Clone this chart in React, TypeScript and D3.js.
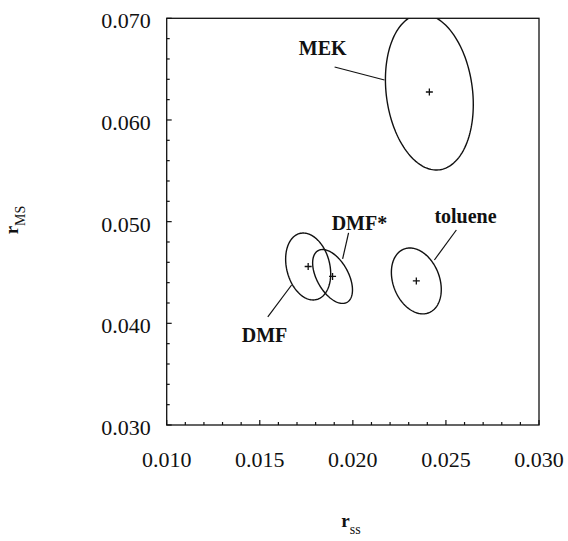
import React, { useEffect, useRef } from 'react';
import * as d3 from 'd3';

// ellipses: centre, half extents (x, y) and correlation
const solvents = ['MEK', 'DMF', 'DMF*', 'toluene'];
const centerSS = [0.02411, 0.0176, 0.01891, 0.02341];
const centerMS = [0.06275, 0.04559, 0.04461, 0.04417];
const spreadSS = [0.00236, 0.00121, 0.00107, 0.00134];
const spreadMS = [0.00767, 0.00329, 0.00265, 0.00324];
const corr = [-0.16, -0.22, -0.5, -0.26];

// label anchors and leader lines in data units
const labelSS = [0.01838, 0.01403, 0.01886, 0.02438];
const labelMS = [0.06639, 0.03818, 0.04918, 0.04987];
const labelAnchor = ['middle', 'start', 'start', 'start'];
const leaderFrom = [[0.01902, 0.06521], [0.01543, 0.04063], [0.01977, 0.04889], [0.02556, 0.04918]];
const leaderTo = [[0.0217, 0.06393], [0.01671, 0.04377], [0.01945, 0.04633], [0.02438, 0.04623]];

const xTicks = [0.010, 0.015, 0.020, 0.025, 0.030];
const yTicks = [0.030, 0.040, 0.050, 0.060, 0.070];

const App = () => {
  const svgRef = useRef<SVGSVGElement>(null);

  useEffect(() => {
    const svg = d3.select(svgRef.current);
    svg.selectAll('*').remove();

    const left = 166.7, right = 539, top = 18.3, bottom = 425;
    const font = '"Liberation Serif", "Times New Roman", serif';

    const x = d3.scaleLinear().domain([0.010, 0.030]).range([left, right]);
    const y = d3.scaleLinear().domain([0.030, 0.070]).range([bottom, top]);

    svg.append('defs').append('clipPath').attr('id', 'plot-clip')
      .append('rect')
      .attr('x', left).attr('y', top)
      .attr('width', right - left).attr('height', bottom - top);

    // frame
    svg.append('rect')
      .attr('x', left).attr('y', top)
      .attr('width', right - left).attr('height', bottom - top)
      .attr('fill', 'none')
      .attr('stroke', '#111')
      .attr('stroke-width', 1.3);

    // ticks (inward)
    const xMinor = d3.range(0.010, 0.0300001, 0.001);
    svg.selectAll('.xtick')
      .data(xMinor)
      .enter().append('line')
      .attr('x1', d => x(d)).attr('x2', d => x(d))
      .attr('y1', bottom)
      .attr('y2', (d, i) => bottom - (i % 5 === 0 ? 5 : 3))
      .attr('stroke', '#111').attr('stroke-width', 1.2);

    const yMinor = d3.range(0.030, 0.0700001, 0.002);
    svg.selectAll('.ytick')
      .data(yMinor)
      .enter().append('line')
      .attr('y1', d => y(d)).attr('y2', d => y(d))
      .attr('x1', left)
      .attr('x2', (d, i) => left + (i % 5 === 0 ? 5 : 3))
      .attr('stroke', '#111').attr('stroke-width', 1.2);

    // tick labels
    svg.selectAll('.xlabel')
      .data(xTicks)
      .enter().append('text')
      .attr('x', d => x(d))
      .attr('y', bottom + 42)
      .attr('text-anchor', 'middle')
      .style('font-family', font)
      .style('font-size', '22px')
      .style('fill', '#111')
      .text(d => d3.format('.3f')(d));

    svg.selectAll('.ylabel')
      .data(yTicks)
      .enter().append('text')
      .attr('x', left - 16)
      .attr('y', d => y(d) + 10)
      .attr('text-anchor', 'end')
      .style('font-family', font)
      .style('font-size', '22px')
      .style('fill', '#111')
      .text(d => d3.format('.3f')(d));

    // axis titles
    const xt = svg.append('text')
      .attr('x', 351).attr('y', 527)
      .attr('text-anchor', 'middle')
      .style('font-family', font)
      .style('font-size', '19px')
      .style('font-weight', 'bold')
      .style('fill', '#111');
    xt.append('tspan').text('r');
    xt.append('tspan').attr('dy', 7).style('font-size', '14px').style('font-weight', 'normal').text('ss');

    const yt = svg.append('text')
      .attr('transform', 'translate(18,220) rotate(-90)')
      .attr('text-anchor', 'middle')
      .style('font-family', font)
      .style('font-size', '19px')
      .style('font-weight', 'bold')
      .style('fill', '#111');
    yt.append('tspan').text('r');
    yt.append('tspan').attr('dy', 7).style('font-size', '14px').style('font-weight', 'normal').text('MS');

    // ellipses
    const angles = d3.range(0, 2 * Math.PI, Math.PI / 90);
    const closed = d3.line().curve(d3.curveLinearClosed);
    const plot = svg.append('g').attr('clip-path', 'url(#plot-clip)');

    solvents.forEach((name, i) => {
      const r = corr[i];
      const pts = angles.map(t => [
        x(centerSS[i] + spreadSS[i] * Math.cos(t)),
        y(centerMS[i] + spreadMS[i] * (r * Math.cos(t) + Math.sqrt(1 - r * r) * Math.sin(t)))
      ] as [number, number]);
      plot.append('path')
        .attr('d', closed(pts))
        .attr('fill', 'none')
        .attr('stroke', '#111')
        .attr('stroke-width', 1.4);

      // centre cross
      const cx = x(centerSS[i]), cy = y(centerMS[i]);
      plot.append('path')
        .attr('d', `M${cx - 3.5},${cy}H${cx + 3.5}M${cx},${cy - 3.5}V${cy + 3.5}`)
        .attr('stroke', '#111')
        .attr('stroke-width', 1.3);

      // leader line
      svg.append('line')
        .attr('x1', x(leaderFrom[i][0])).attr('y1', y(leaderFrom[i][1]))
        .attr('x2', x(leaderTo[i][0])).attr('y2', y(leaderTo[i][1]))
        .attr('stroke', '#111')
        .attr('stroke-width', 1.2);

      svg.append('text')
        .attr('x', x(labelSS[i]))
        .attr('y', y(labelMS[i]))
        .attr('text-anchor', labelAnchor[i])
        .style('font-family', font)
        .style('font-size', '20px')
        .style('font-weight', 'bold')
        .style('fill', '#111')
        .text(name);
    });
  }, []);

  return (
    <svg
      ref={svgRef}
      width={568}
      height={541}
      style={{ position: 'absolute', left: 0, top: 0, background: '#fff' }}
    />
  );
};

export default App;
